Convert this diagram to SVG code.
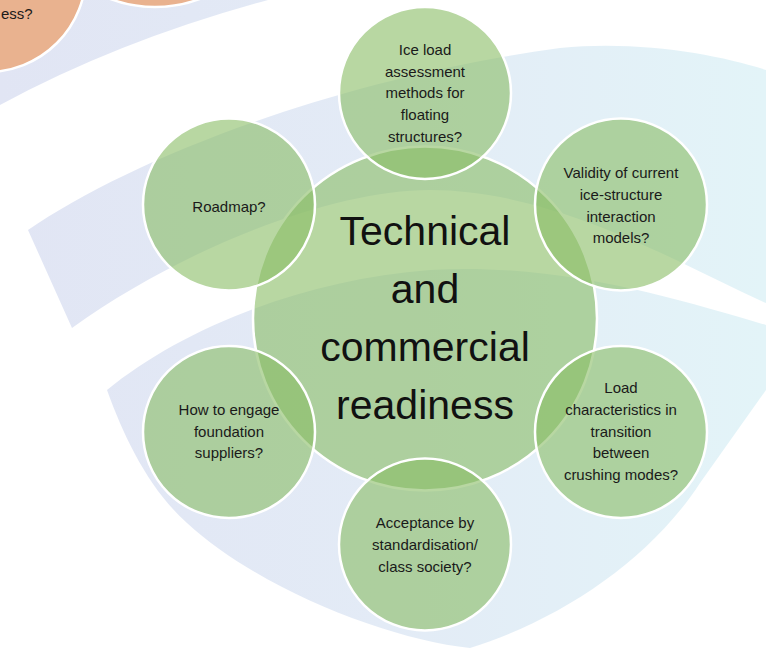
<svg xmlns="http://www.w3.org/2000/svg" width="766" height="648" viewBox="0 0 766 648">
<defs>
<linearGradient id="bg" gradientUnits="userSpaceOnUse" x1="0" y1="0" x2="766" y2="0">
<stop offset="0" stop-color="#e1e5f4"/>
<stop offset="0.5" stop-color="#e3ebf6"/>
<stop offset="1" stop-color="#e3f4f8"/>
</linearGradient>
<style>
.band{fill:url(#bg);}
.orange{fill:#e9b28f;stroke:#ffffff;stroke-width:2.5;}
.hub{fill:#88bc64;fill-opacity:0.6;stroke:#ffffff;stroke-width:2.5;}
.node{fill:#88bc64;fill-opacity:0.6;stroke:#ffffff;stroke-width:2.5;}
.t{font-family:"Liberation Sans",Arial,sans-serif;font-size:15px;fill:#1a1a1a;text-anchor:middle;}
.big{font-family:"Liberation Sans",Arial,sans-serif;font-size:41px;fill:#111111;text-anchor:middle;}
</style>
</defs>
<rect width="766" height="648" fill="#ffffff"/>
<g id="background">
<path class="band" d="M0,0 L268,0 Q120,40 0,105 Z"/>
<path class="band" d="M28,230 C130,160 330,80 560,48 C640,40 720,55 766,70 L766,303 C690,270 560,190 430,190 C330,190 180,250 72,328 Z"/>
<path class="band" d="M107,390 C180,330 300,280 430,270 C560,262 680,300 766,325 L766,390 L700,483 C650,560 560,620 470,648 C390,640 260,590 187,523 C150,490 125,440 107,390 Z"/>
</g>
<g id="other-topic">
<circle class="orange" cx="-13" cy="-27" r="99"/>
<circle class="orange" cx="155" cy="-122" r="129"/>
<text class="t" style="font-size:15px;text-anchor:start" x="1" y="19">ess?</text>
</g>
<g id="connectors"></g>
<g id="hub">
<circle class="hub" cx="425" cy="318.5" r="172"/>
</g>
<g id="node-top">
<circle class="node" cx="425" cy="93" r="86"/>
<text class="t"><tspan x="425" y="55">Ice load</tspan><tspan x="425" y="76.7">assessment</tspan><tspan x="425" y="98.3">methods for</tspan><tspan x="425" y="120">floating</tspan><tspan x="425" y="141.7">structures?</tspan></text>
</g>
<g id="node-upper-right">
<circle class="node" cx="621" cy="204.5" r="86"/>
<text class="t"><tspan x="621" y="178.3">Validity of current</tspan><tspan x="621" y="200">ice-structure</tspan><tspan x="621" y="221.7">interaction</tspan><tspan x="621" y="243.3">models?</tspan></text>
</g>
<g id="node-lower-right">
<circle class="node" cx="621" cy="432" r="86"/>
<text class="t"><tspan x="621" y="393.3">Load</tspan><tspan x="621" y="415">characteristics in</tspan><tspan x="621" y="436.7">transition</tspan><tspan x="621" y="458.3">between</tspan><tspan x="621" y="480">crushing modes?</tspan></text>
</g>
<g id="node-bottom">
<circle class="node" cx="425" cy="544.5" r="86"/>
<text class="t"><tspan x="425" y="528.3">Acceptance by</tspan><tspan x="425" y="550">standardisation/</tspan><tspan x="425" y="571.7">class society?</tspan></text>
</g>
<g id="node-lower-left">
<circle class="node" cx="229" cy="432" r="86"/>
<text class="t"><tspan x="229" y="415">How to engage</tspan><tspan x="229" y="436.7">foundation</tspan><tspan x="229" y="458.3">suppliers?</tspan></text>
</g>
<g id="node-upper-left">
<circle class="node" cx="229" cy="204.5" r="86"/>
<text class="t" x="229" y="211.5">Roadmap?</text>
</g>
<g id="hub-label">
<text class="big"><tspan x="425" y="244.5">Technical</tspan><tspan x="425" y="302.5">and</tspan><tspan x="425" y="360.5">commercial</tspan><tspan x="425" y="418.5">readiness</tspan></text>
</g>
</svg>
